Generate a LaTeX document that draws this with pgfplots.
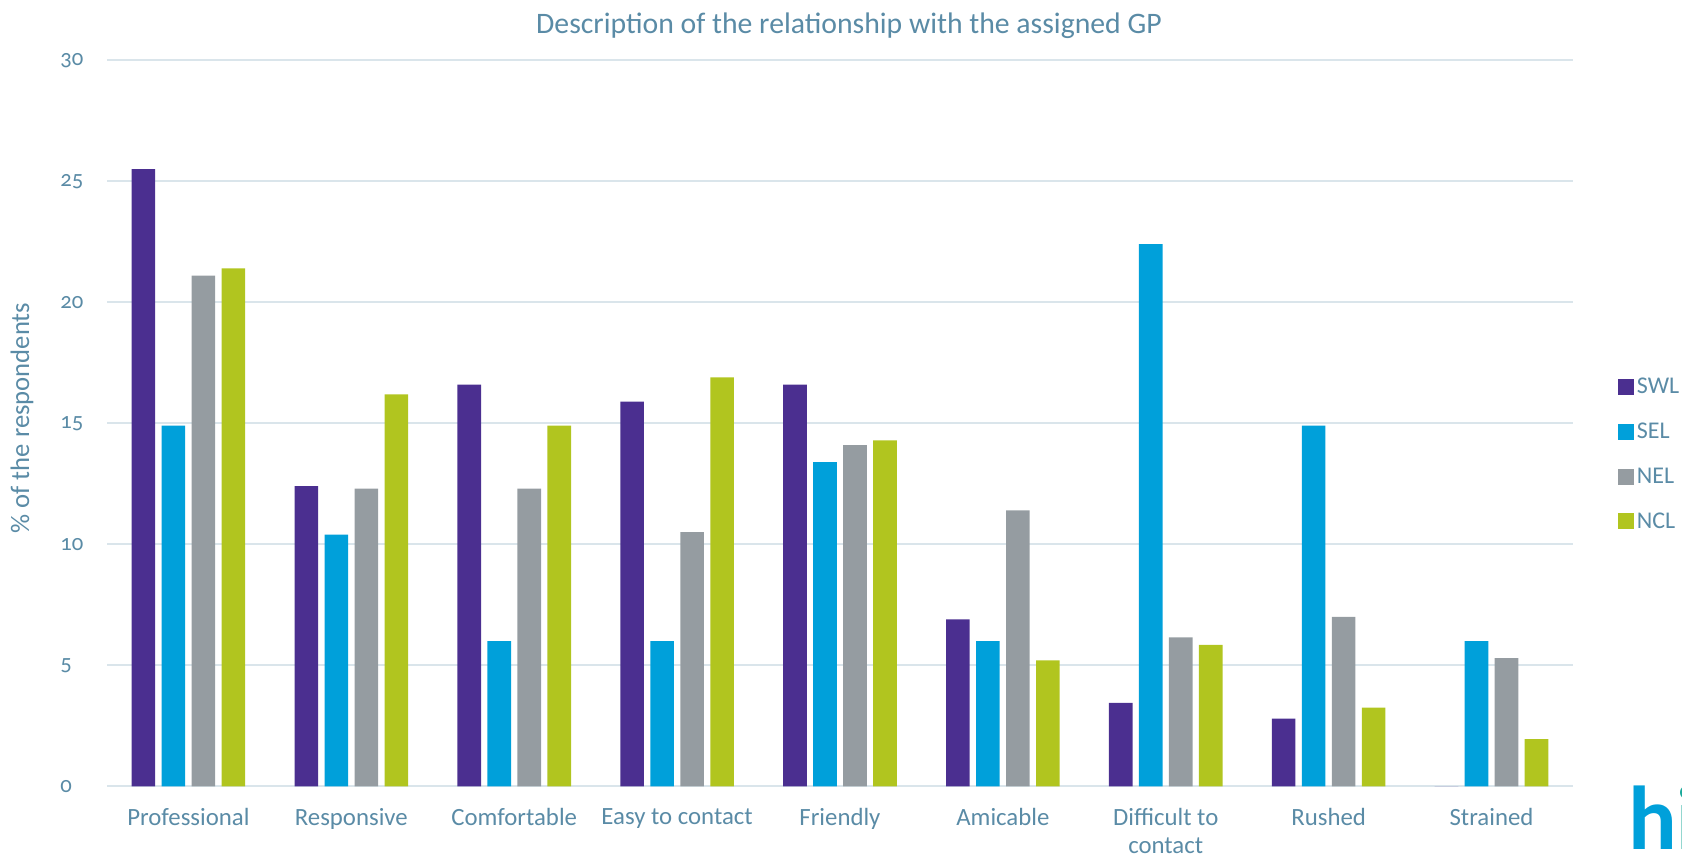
\documentclass[border=0pt]{standalone}
\usepackage{pgfplots}
\pgfplotsset{compat=1.18}
\usepackage{pgfplotstable}
\usepackage{fontspec}
\setmainfont{Carlito}[Numbers=OldStyle]

\definecolor{swl}{HTML}{4B2F90}
\definecolor{sel}{HTML}{00A0DA}
\definecolor{nel}{HTML}{959CA1}
\definecolor{ncl}{HTML}{B1C51F}
\definecolor{txt}{HTML}{5A8BA6}
\definecolor{gridc}{HTML}{DAE5EB}
\definecolor{logoteal}{HTML}{1BA99B}

% share of respondents per category (0 = Professional ... 8 = Strained)
\pgfplotstableread{
x swl sel nel ncl
0 25.5 14.9 21.1 21.4
1 12.4 10.4 12.3 16.2
2 16.6 6.0 12.3 14.9
3 15.9 6.0 10.5 16.9
4 16.6 13.4 14.1 14.3
5 6.9 6.0 11.4 5.2
6 3.45 22.4 6.15 5.85
7 2.8 14.9 7.0 3.25
8 0 6.0 5.3 1.95
}\gpdata

\pgfplotsset{sq legend/.style={legend image code/.code={\fill[##1] (0pt,-6pt) rectangle (12pt,6pt);}}}

\begin{document}
\begin{tikzpicture}
\useasboundingbox (0,0) rectangle (1261.5pt,641.25pt);
\begin{axis}[
    at={(80.25pt,51.5pt)}, anchor=south west,
    scale only axis, width=1099.5pt, height=544.5pt,
    ybar=4.8pt, bar width=17.7pt,
    xmin=-0.5, xmax=8.5, ymin=0, ymax=30,
    xtick=data,
    xticklabels={Professional, Responsive, Comfortable, Easy to contact, Friendly, Amicable, {Difficult to\\contact}, Rushed, Strained},
    ytick={0,5,...,30},
    axis line style={draw=none},
    major tick length=0pt,
    ymajorgrids, grid style={gridc, line width=1.5pt},
    /pgf/number format/assume math mode=true,
    yticklabel style={anchor=west, inner sep=0pt, xshift=-35.25pt, text=txt, font=\fontsize{17}{20}\selectfont},
    xticklabel style={anchor=north, align=center, inner sep=0pt, yshift=-16.3pt, text=txt, font=\fontsize{18.6}{21}\selectfont},
    legend style={at={(1.028,0.57)}, anchor=north west, draw=none, fill=none,
        font=\fontsize{18}{22}\selectfont, text=txt, row sep=16.5pt},
    legend cell align=left,
]
\addplot[fill=swl, draw=none, sq legend] table[x=x, y=swl] {\gpdata};
\addlegendentry{SWL}
\addplot[fill=sel, draw=none, sq legend] table[x=x, y=sel] {\gpdata};
\addlegendentry{SEL}
\addplot[fill=nel, draw=none, sq legend] table[x=x, y=nel] {\gpdata};
\addlegendentry{NEL}
\addplot[fill=ncl, draw=none, sq legend] table[x=x, y=ncl] {\gpdata};
\addlegendentry{NCL}
\end{axis}
\node[text=txt, font=\fontsize{22.3}{26}\selectfont] at (636.75pt,621.6pt) {Description of the relationship with the assigned GP};
\node[text=txt, rotate=90, font=\fontsize{20}{24}\selectfont] at (16.5pt,327.75pt) {\% of the respondents};
\node[anchor=base west, inner sep=0pt, font=\fontsize{68}{68}\bfseries\selectfont] at (1221pt,3.75pt) {\textcolor{sel}{h}\textcolor{logoteal}{i}};
\end{tikzpicture}
\end{document}
